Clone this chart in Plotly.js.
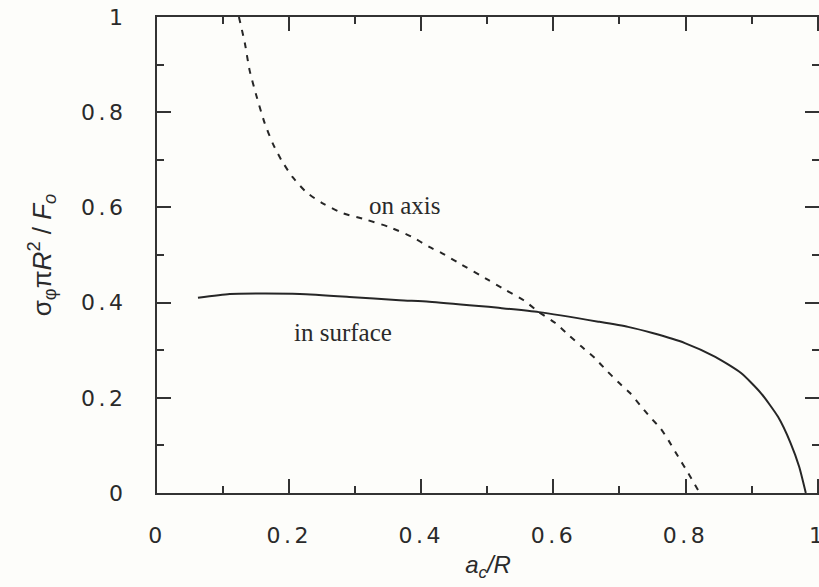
<!DOCTYPE html>
<html>
<head>
<meta charset="utf-8">
<script src="https://cdn.plot.ly/plotly-3.0.1.min.js"></script>
<style>
html, body { margin: 0; padding: 0; background: #fdfdfa; }
#chart { width: 819px; height: 587px; }
.xtick text, .ytick text { letter-spacing: 3.5px; }
</style>
</head>
<body>
<div id="chart"></div>
<script>
// "on axis" (dashed) curve
const onAxisX = [0.124,0.133,0.140,0.151,0.163,0.175,0.188,0.205,0.226,0.250,0.281,0.317,0.351,0.386,0.412,0.431,0.457,0.502,0.528,0.555,0.578,0.603,0.623,0.643,0.663,0.680,0.698,0.716,0.731,0.746,0.762,0.774,0.789,0.804,0.819];
const onAxisY = [1.0,0.945,0.889,0.832,0.777,0.735,0.700,0.664,0.632,0.609,0.588,0.574,0.559,0.538,0.517,0.504,0.483,0.447,0.426,0.405,0.380,0.357,0.332,0.307,0.283,0.258,0.233,0.210,0.185,0.160,0.136,0.111,0.076,0.042,0.006];
// "in surface" (solid) curve
const inSurfX = [0.062,0.110,0.160,0.216,0.291,0.367,0.412,0.487,0.517,0.578,0.668,0.713,0.750,0.799,0.845,0.884,0.914,0.940,0.959,0.972,0.982];
const inSurfY = [0.410,0.418,0.419,0.418,0.412,0.405,0.402,0.393,0.389,0.380,0.360,0.349,0.336,0.315,0.286,0.252,0.210,0.160,0.105,0.055,0.0];
// tick values / labels
const xTickVals = [0, 0.2, 0.4, 0.6, 0.8, 1];
const xTickText = ['0', '0.2', '0.4', '0.6', '0.8', '1'];
const yTickVals = [0, 0.2, 0.4, 0.6, 0.8, 1];
const yTickText = ['0', '0.2', '0.4', '0.6', '0.8', '1'];
// curve labels
const labelText = ['on axis', 'in surface'];
const labelX = [0.375, 0.282];
const labelY = [0.605, 0.338];

const ink = '#262626';
const traces = [
  { x: onAxisX, y: onAxisY, mode: 'lines', name: 'on axis',
    line: { color: ink, width: 2, dash: '6px,7px', shape: 'spline', smoothing: 0.6 } },
  { x: inSurfX, y: inSurfY, mode: 'lines', name: 'in surface',
    line: { color: ink, width: 2, shape: 'spline', smoothing: 0.6 } }
];

const axisCommon = {
  showgrid: false, zeroline: false, showline: true, linecolor: '#333', linewidth: 2,
  mirror: 'ticks', ticks: 'inside', ticklen: 14, tickwidth: 2, tickcolor: '#333',
  tickmode: 'array',
  tickfont: { family: 'DejaVu Sans, sans-serif', size: 22, color: '#2a2a2a' },
  minor: { dtick: 0.1, ticks: 'inside', ticklen: 7, tickwidth: 2, tickcolor: '#333' }
};

const layout = {
  width: 819, height: 587,
  margin: { l: 157, r: 0, t: 17, b: 94 },
  paper_bgcolor: '#fdfdfa', plot_bgcolor: '#fdfdfa',
  showlegend: false,
  xaxis: Object.assign({}, axisCommon, {
    range: [0, 1.002], tickvals: xTickVals, ticktext: xTickText,
    ticklabelstandoff: 22, ticklabeloverflow: 'allow',
    title: { text: '<i>a</i><sub><i>c</i></sub><i>/R</i>', standoff: 9,
             font: { family: 'Liberation Sans, Arial, sans-serif', size: 24, color: '#2a2a2a' } }
  }),
  yaxis: Object.assign({}, axisCommon, {
    range: [0, 1], tickvals: yTickVals, ticktext: yTickText,
    ticklabelstandoff: 24, ticklabeloverflow: 'allow',
    title: { text: 'σ<sub>φ</sub>π<i>R</i><sup>2</sup> / <i>F</i><sub><i>o</i></sub>', standoff: 22,
             font: { family: 'Liberation Sans, Arial, sans-serif', size: 26, color: '#2a2a2a' } }
  }),
  annotations: labelText.map((t, i) => ({
    x: labelX[i], y: labelY[i], xref: 'x', yref: 'y', text: t, showarrow: false,
    font: { family: 'Liberation Serif, Times New Roman, serif', size: 25, color: '#2a2a2a' }
  }))
};

Plotly.newPlot('chart', traces, layout, { staticPlot: true, displayModeBar: false });
</script>
</body>
</html>
